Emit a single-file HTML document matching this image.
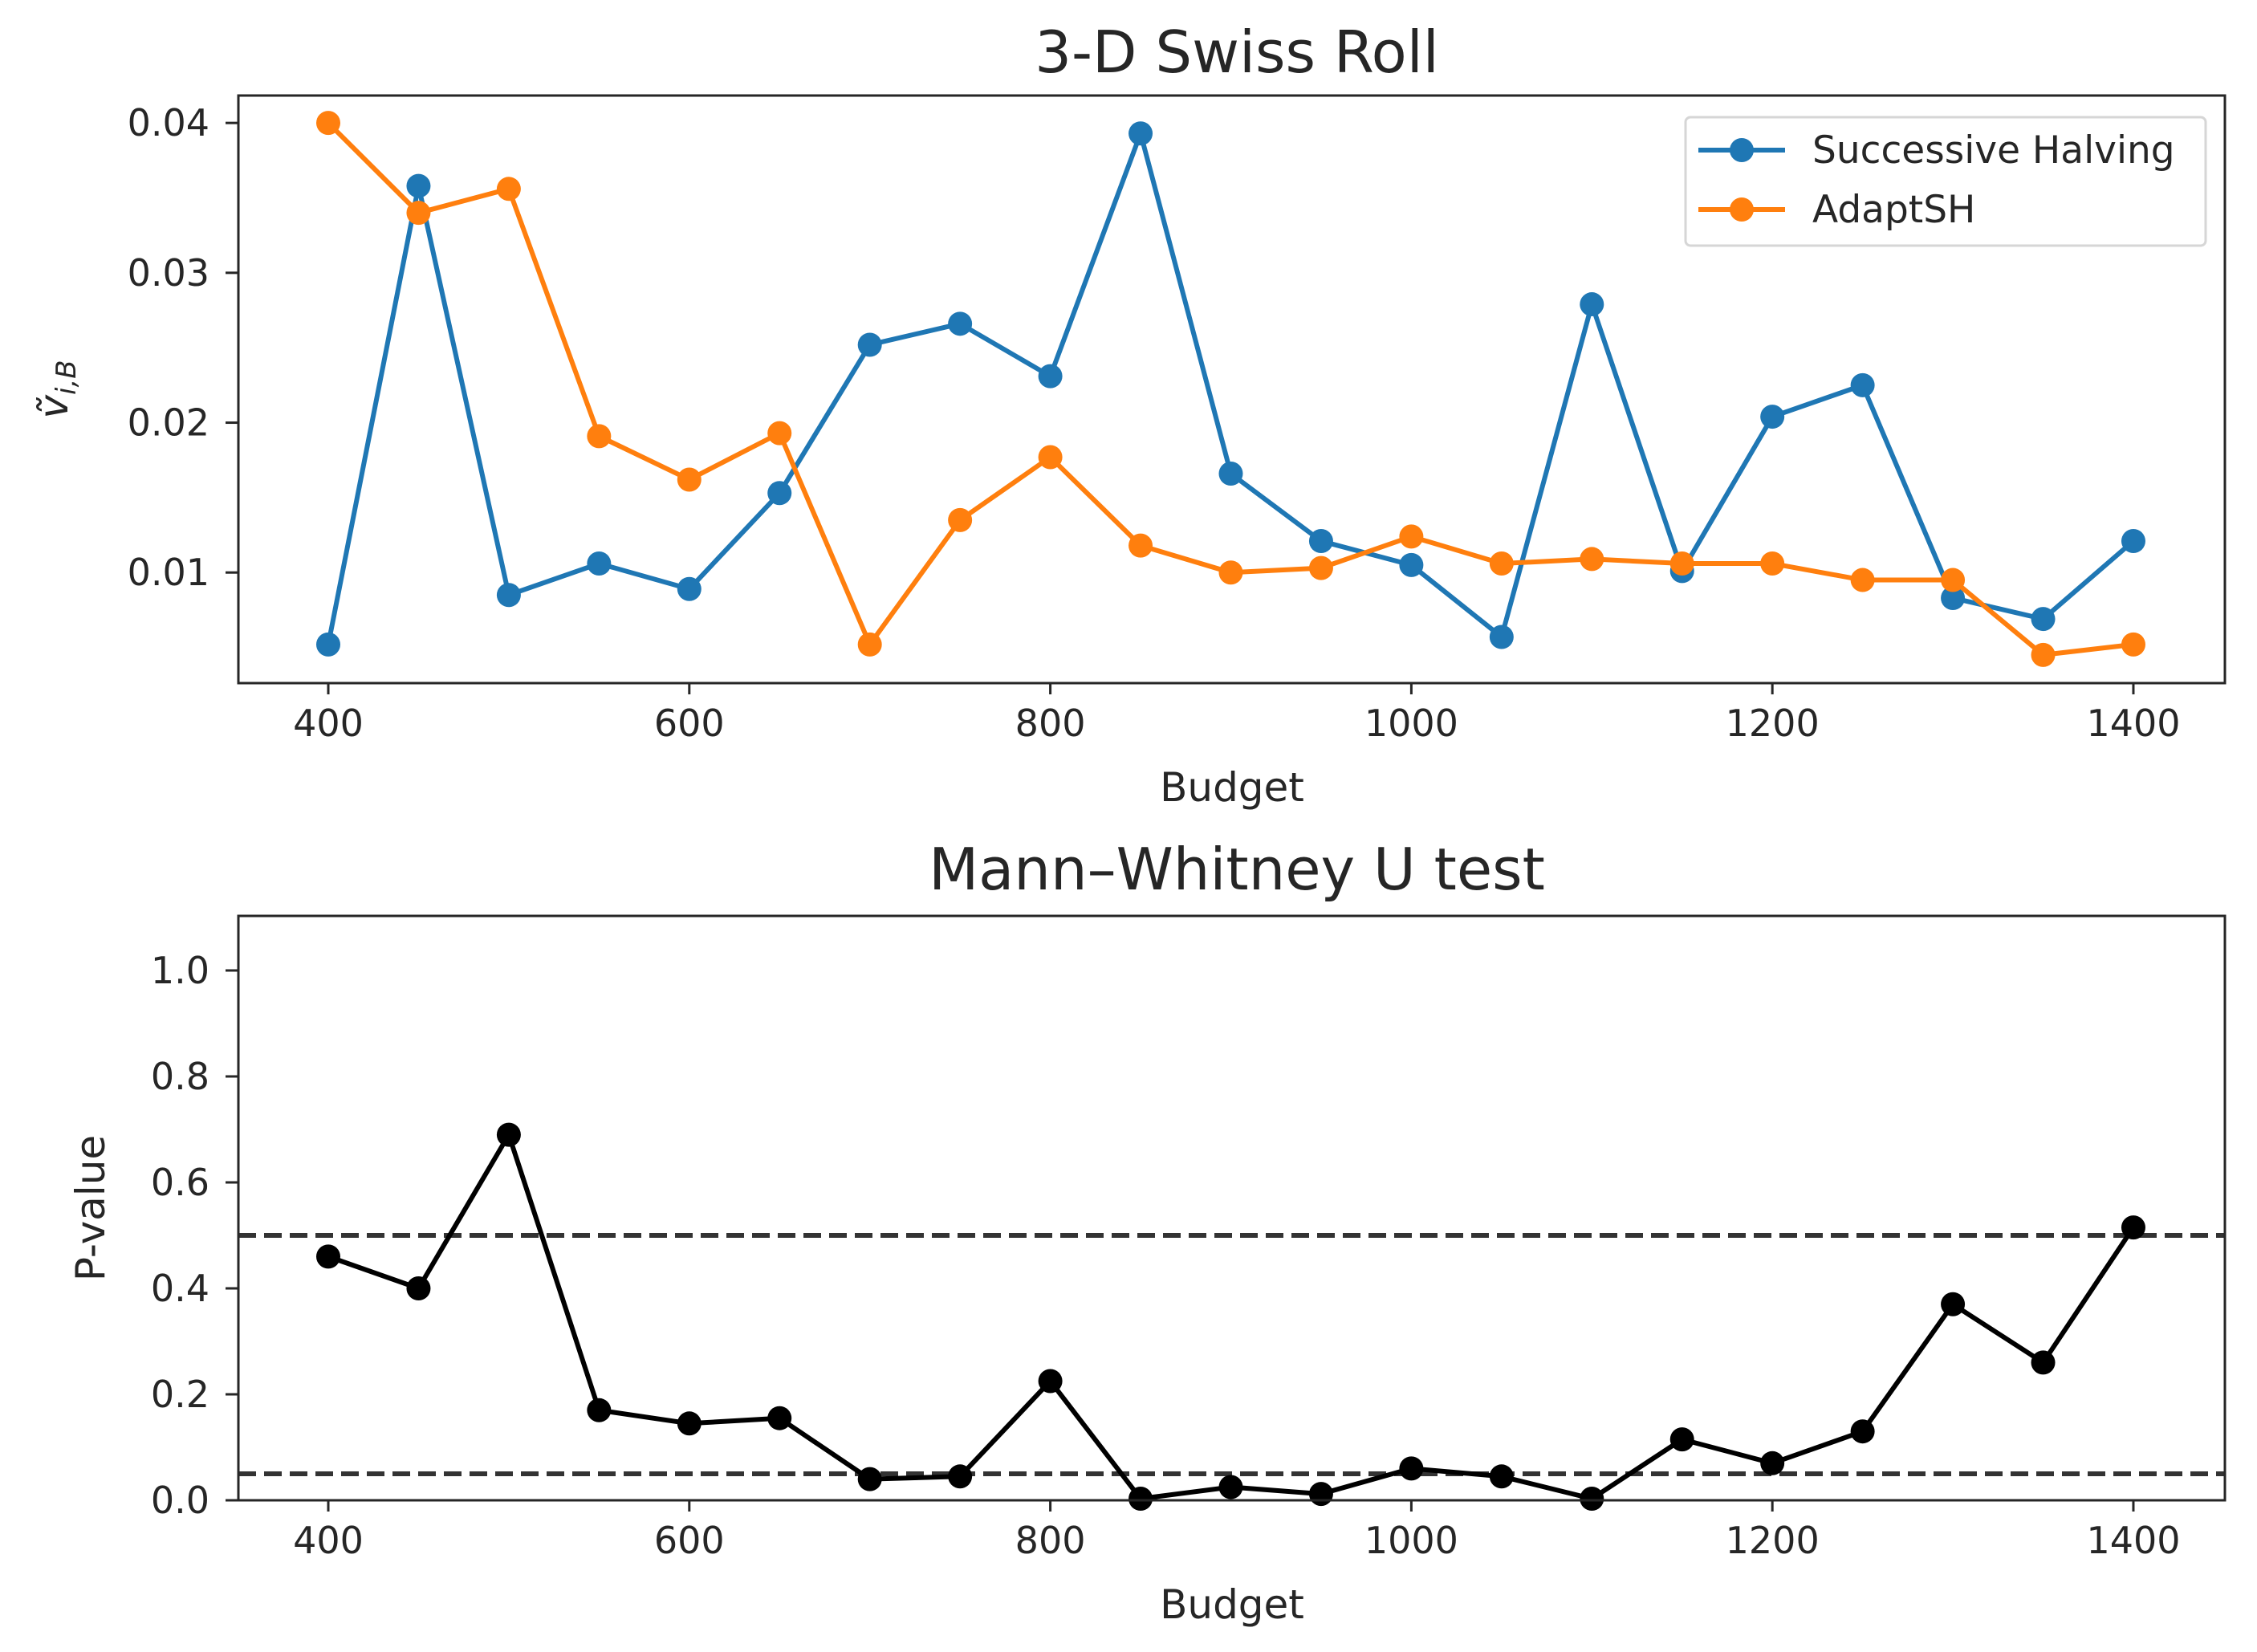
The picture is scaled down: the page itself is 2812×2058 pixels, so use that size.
<!DOCTYPE html>
<html><head><meta charset="utf-8"><style>
html,body{margin:0;padding:0;background:#fff;}
svg text{font-family:"DejaVu Sans","Liberation Sans",sans-serif;fill:#262626;}
</style></head><body>
<svg id="fig" width="2812" height="2053" viewBox="0 0 2812 2053" xmlns="http://www.w3.org/2000/svg">
<rect width="2812" height="2053" fill="#fff"/>
<g id="top"></g>
<g id="bot"></g>
</svg>
<script>
const budgets=[400,450,500,550,600,650,700,750,800,850,900,950,1000,1050,1100,1150,1200,1250,1300,1350,1400];
const shValues=[0.0052,0.0358,0.0085,0.0106,0.0089,0.0153,0.0252,0.0266,0.0231,0.0393,0.0166,0.0121,0.0105,0.0057,0.0279,0.0101,0.0204,0.0225,0.0083,0.0069,0.0121];
const adaptValues=[0.0400,0.0340,0.0356,0.0191,0.0162,0.0193,0.0052,0.0135,0.0177,0.0118,0.0100,0.0103,0.0124,0.0106,0.0109,0.0106,0.0106,0.0095,0.0095,0.0045,0.0052];
const pValues=[0.46,0.40,0.69,0.17,0.145,0.155,0.04,0.045,0.225,0.003,0.025,0.012,0.06,0.045,0.003,0.115,0.07,0.13,0.37,0.26,0.515];
const thresholds=[0.5,0.05];
const xTicks=[400,600,800,1000,1200,1400];
const topYTicks=[0.01,0.02,0.03,0.04];
const topYLabels=["0.01","0.02","0.03","0.04"];
const botYTicks=[0,0.2,0.4,0.6,0.8,1.0];
const botYLabels=["0.0","0.2","0.4","0.6","0.8","1.0"];
const NS="http://www.w3.org/2000/svg";
function mk(parent,tag,attrs,text){const e=document.createElementNS(NS,tag);for(const k in attrs)e.setAttribute(k,attrs[k]);if(text!==undefined)e.textContent=text;parent.appendChild(e);return e;}
const L=297,R=2772;
const xs=v=>L+(v-350.2)/(1450.7-350.2)*(R-L);
function axes(g,top,bottom,ymin,ymax,yticks,ylabels,title,titleY,ylabelX,ylabelText){
  const ys=v=>bottom-(v-ymin)/(ymax-ymin)*(bottom-top);
  const t=mk(g,'text',{x:1541,y:titleY,'font-size':72,'text-anchor':'middle'},title);
  
  
  xTicks.forEach(v=>{
    const tk=mk(g,'line',{x1:xs(v),x2:xs(v),y1:bottom,y2:bottom+14,stroke:'#262626','stroke-width':3});
    
    
    const lb=mk(g,'text',{x:xs(v),y:bottom+66,'font-size':46,'text-anchor':'middle'},String(v));
    
    
  });
  yticks.forEach((v,i)=>{
    const tk=mk(g,'line',{x1:L-16,x2:L,y1:ys(v),y2:ys(v),stroke:'#262626','stroke-width':3});
    
    
    const lb=mk(g,'text',{x:L-36,y:ys(v)+16,'font-size':46,'text-anchor':'end'},ylabels[i]);
    
    
  });
  const xl=mk(g,'text',{x:1535,y:bottom+147,'font-size':50,'text-anchor':'middle'},'Budget');
  
  
  const cy=(top+bottom)/2;
  const yl=mk(g,'text',{x:ylabelX,y:cy,'font-size':50,'text-anchor':'middle',transform:`rotate(-90 ${ylabelX} ${cy})`});
  yl.innerHTML=ylabelText;
  
  
  return ys;
}
function series(g,vals,ys,color,name){
  const pts=budgets.map((b,i)=>xs(b)+','+ys(vals[i])).join(' ');
  const pl=mk(g,'polyline',{points:pts,fill:'none',stroke:color,'stroke-width':6,'stroke-linejoin':'round'});
  
  
  budgets.forEach((b,i)=>{
    const c=mk(g,'circle',{cx:xs(b),cy:ys(vals[i]),r:15,fill:color});
    
    
  });
}
// top
const gt=document.getElementById('top');
const T1=119,B1=851;
const ys1=axes(gt,T1,B1,0.00262,0.04183,topYTicks,topYLabels,'3-D Swiss Roll',90,84,'<tspan font-style="italic">ṽ</tspan><tspan font-style="italic" font-size="34" dy="10">i,B</tspan>');
series(gt,shValues,ys1,'#1f77b4','successive-halving');
series(gt,adaptValues,ys1,'#ff7f0e','adaptsh');
const f1=mk(gt,'rect',{x:L,y:T1,width:R-L,height:B1-T1,fill:'none',stroke:'#262626','stroke-width':3});


const lg=mk(gt,'g',{});


mk(lg,'rect',{x:2100,y:146,width:648,height:160,rx:6,fill:'#fff','fill-opacity':0.8,stroke:'#d6d6d6','stroke-width':3});
[['Successive Halving','#1f77b4',187],['AdaptSH','#ff7f0e',261]].forEach(([n,c,y])=>{
  const e=mk(lg,'g',{});
  
  
  mk(e,'line',{x1:2116,x2:2224,y1:y,y2:y,stroke:c,'stroke-width':6});
  mk(e,'circle',{cx:2170,cy:y,r:15,fill:c});
  mk(e,'text',{x:2258,y:y+16,'font-size':47},n);
});
// bottom
const gb=document.getElementById('bot');
const T2=1141,B2=1869;
const ys2=axes(gb,T2,B2,0,1.103,botYTicks,botYLabels,'Mann–Whitney U test',1108,130,'P-value');
thresholds.forEach(v=>{
  const l=mk(gb,'line',{x1:L,x2:R,y1:ys2(v),y2:ys2(v),stroke:'#333','stroke-width':6,'stroke-dasharray':'22 10'});
  
  
});
series(gb,pValues,ys2,'#000','p-value');
const f2=mk(gb,'rect',{x:L,y:T2,width:R-L,height:B2-T2,fill:'none',stroke:'#262626','stroke-width':3});


</script>
</body></html>
